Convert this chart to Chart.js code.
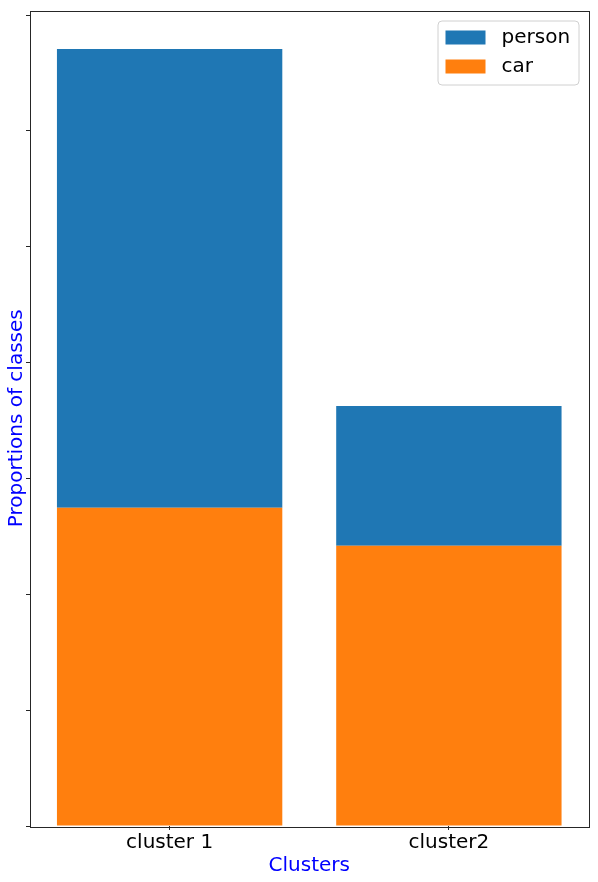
<!DOCTYPE html>
<html>
<head>
<meta charset="utf-8">
<script src="https://cdn.jsdelivr.net/npm/chart.js@4/dist/chart.umd.min.js"></script>
<style>
html,body{margin:0;padding:0;background:#fff;}
#wrap{width:598px;height:882px;position:relative;}
</style>
</head>
<body>
<div id="wrap"><canvas id="c" width="598" height="882"></canvas></div>
<script>
const categories = ['cluster 1', 'cluster2'];
const carValues = [2.747, 2.418];
const personValues = [3.959, 1.207];
const yTicks = [0, 1, 2, 3, 4, 5, 6, 7];
const yMax = 7.039;

const FONT = "'DejaVu Sans', sans-serif";
const AXIS_COLOR = '#262626';

const frame = {
  id: 'frame',
  afterDraw(chart) {
    const {ctx, chartArea: a} = chart;
    ctx.save();
    ctx.strokeStyle = AXIS_COLOR;
    ctx.lineWidth = 1;
    ctx.strokeRect(Math.round(a.left) + 0.5, Math.round(a.top) + 0.5,
      Math.round(a.right - a.left), Math.round(a.bottom - a.top));
    ctx.restore();
  }
};

const legendBox = {
  id: 'legendBox',
  afterDraw(chart) {
    const {ctx, chartArea: a} = chart;
    const items = chart.data.datasets.slice().reverse();
    const w = 141, h = 64;
    const x = a.right - 10 - w, y = a.top + 10;
    ctx.save();
    ctx.fillStyle = 'rgba(255,255,255,0.8)';
    ctx.strokeStyle = '#d0d0d0';
    ctx.lineWidth = 1;
    ctx.beginPath();
    ctx.roundRect(x + 0.5, y + 0.5, w, h, 4);
    ctx.fill();
    ctx.stroke();
    ctx.font = '20px ' + FONT;
    ctx.textBaseline = 'middle';
    items.forEach((ds, i) => {
      const cy = y + 17 + i * 29;
      ctx.fillStyle = ds.backgroundColor;
      ctx.fillRect(x + 8, cy - 7, 40, 14);
      ctx.fillStyle = '#000';
      ctx.fillText(ds.label, x + 64, cy);
    });
    ctx.restore();
  }
};

new Chart(document.getElementById('c'), {
  type: 'bar',
  data: {
    labels: categories,
    datasets: [
      {label: 'car', data: carValues, backgroundColor: '#ff7f0e', borderWidth: 0},
      {label: 'person', data: personValues, backgroundColor: '#1f77b4', borderWidth: 0}
    ]
  },
  options: {
    responsive: false,
    animation: false,
    devicePixelRatio: 1,
    layout: {padding: {top: 10.5, right: 9.5, left: 0, bottom: 0}},
    plugins: {legend: {display: false}, tooltip: {enabled: false}},
    datasets: {bar: {categoryPercentage: 1.0, barPercentage: 0.807}},
    scales: {
      x: {
        stacked: true,
        offset: true,
        border: {display: false},
        grid: {display: true, offset: false, drawOnChartArea: false, drawTicks: true, tickLength: 4, color: AXIS_COLOR},
        ticks: {color: '#000', font: {family: FONT, size: 20}, padding: 1, maxRotation: 0},
        title: {display: true, text: 'Clusters', color: '#0000ff', font: {family: FONT, size: 20}, padding: {top: 0, bottom: 4}},
        afterFit(s) { s.height = 56; }
      },
      y: {
        stacked: true,
        min: 0,
        max: yMax,
        border: {display: false},
        afterBuildTicks(s) { s.ticks = yTicks.map(v => ({value: v})); },
        grid: {display: true, drawOnChartArea: false, drawTicks: true, tickLength: 4, color: AXIS_COLOR},
        ticks: {display: true, callback: () => '', padding: 0, font: {family: FONT, size: 1}},
        title: {display: true, text: 'Proportions of classes', color: '#0000ff', font: {family: FONT, size: 20}, padding: {top: 5, bottom: 0}},
        afterFit(s) { s.width = 30; }
      }
    }
  },
  plugins: [frame, legendBox]
});
</script>
</body>
</html>
